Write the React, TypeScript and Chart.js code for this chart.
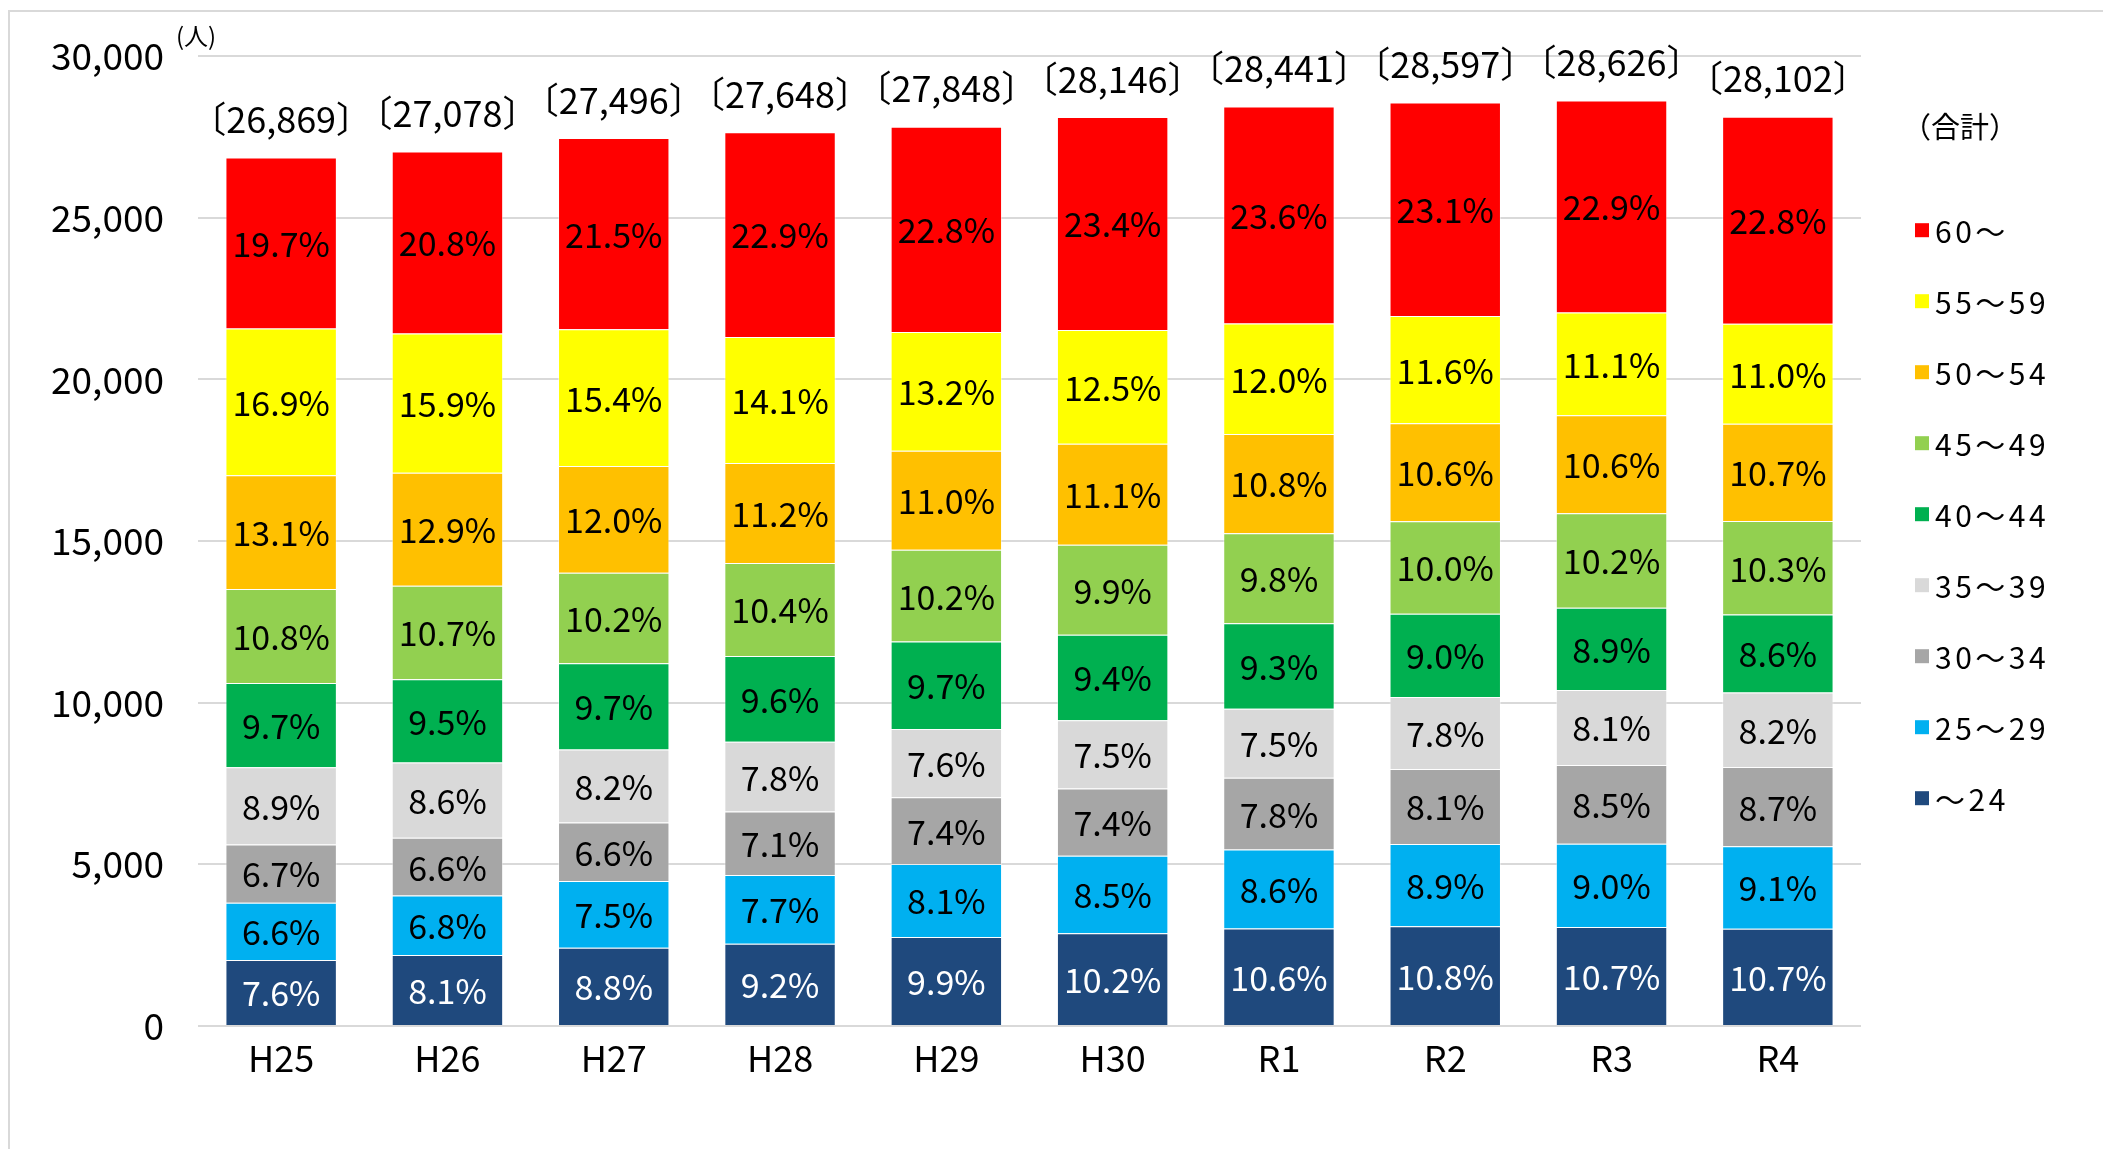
import React, { useEffect, useRef } from "react";
import { Chart, registerables } from "chart.js";

Chart.register(...registerables);

// 年度
const years = ["H25", "H26", "H27", "H28", "H29", "H30", "R1", "R2", "R3", "R4"];
// 合計人数
const totals = [26869, 27078, 27496, 27648, 27848, 28146, 28441, 28597, 28626, 28102];

// 年齢階層（下から積み上げ順）
const ageGroups = ["～24", "25～29", "30～34", "35～39", "40～44", "45～49", "50～54", "55～59", "60～"];

// 各年齢階層の構成比（%）
const shareUnder24 = [7.6, 8.1, 8.8, 9.2, 9.9, 10.2, 10.6, 10.8, 10.7, 10.7];
const share25to29 = [6.6, 6.8, 7.5, 7.7, 8.1, 8.5, 8.6, 8.9, 9.0, 9.1];
const share30to34 = [6.7, 6.6, 6.6, 7.1, 7.4, 7.4, 7.8, 8.1, 8.5, 8.7];
const share35to39 = [8.9, 8.6, 8.2, 7.8, 7.6, 7.5, 7.5, 7.8, 8.1, 8.2];
const share40to44 = [9.7, 9.5, 9.7, 9.6, 9.7, 9.4, 9.3, 9.0, 8.9, 8.6];
const share45to49 = [10.8, 10.7, 10.2, 10.4, 10.2, 9.9, 9.8, 10.0, 10.2, 10.3];
const share50to54 = [13.1, 12.9, 12.0, 11.2, 11.0, 11.1, 10.8, 10.6, 10.6, 10.7];
const share55to59 = [16.9, 15.9, 15.4, 14.1, 13.2, 12.5, 12.0, 11.6, 11.1, 11.0];
const share60over = [19.7, 20.8, 21.5, 22.9, 22.8, 23.4, 23.6, 23.1, 22.9, 22.8];

const shareSeries = [
  shareUnder24, share25to29, share30to34, share35to39, share40to44,
  share45to49, share50to54, share55to59, share60over,
];

const groupColors = [
  "#1f497d", "#00b0f0", "#a6a6a6", "#d9d9d9", "#00b050",
  "#92d050", "#ffc000", "#ffff00", "#ff0000",
];

// 縦軸
const yMax = 30000;
const yStep = 5000;
const unitLabel = "(人)";
const totalLegendLabel = "（合計）";

const FONT = '"Noto Sans CJK JP", "Noto Sans", sans-serif';

const W = 2103;
const H = 1149;

const overlay = {
  id: "overlay",
  beforeDraw(chart: any) {
    const { ctx, width, height } = chart;
    ctx.save();
    ctx.fillStyle = "#ffffff";
    ctx.fillRect(0, 0, width, height);
    ctx.strokeStyle = "#d9d9d9";
    ctx.lineWidth = 2;
    ctx.beginPath();
    ctx.moveTo(9, height + 2);
    ctx.lineTo(9, 11);
    ctx.lineTo(width + 2, 11);
    ctx.stroke();
    ctx.restore();
  },
  afterDatasetsDraw(chart: any) {
    const { ctx } = chart;
    ctx.save();
    ctx.textAlign = "center";
    ctx.textBaseline = "middle";

    // 構成比ラベル
    ctx.font = `34px ${FONT}`;
    chart.data.datasets.forEach((ds: any, di: number) => {
      const meta = chart.getDatasetMeta(di);
      meta.data.forEach((bar: any, i: number) => {
        const { x, y, base } = bar.getProps(["x", "y", "base"], true);
        ctx.fillStyle = di === 0 ? "#ffffff" : "#000000";
        ctx.fillText(`${shareSeries[di][i].toFixed(1)}%`, x, (y + base) / 2 + 1);
      });
    });

    // 合計ラベル
    const topMeta = chart.getDatasetMeta(chart.data.datasets.length - 1);
    ctx.fillStyle = "#000000";
    ctx.font = `36px ${FONT}`;
    topMeta.data.forEach((bar: any, i: number) => {
      const { x, y } = bar.getProps(["x", "y"], true);
      ctx.fillText(`〔${totals[i].toLocaleString("en-US")}〕`, x, y - 38);
    });
    ctx.restore();
  },
  afterDraw(chart: any) {
    const { ctx, chartArea } = chart;
    ctx.save();
    ctx.fillStyle = "#000000";
    ctx.textBaseline = "middle";

    // 単位
    ctx.textAlign = "center";
    ctx.font = `24px ${FONT}`;
    ctx.fillText(unitLabel, chartArea.left - 2, chartArea.top - 20);

    // 凡例
    const lx = chartArea.right + 54;
    ctx.textAlign = "left";
    ctx.font = `29px ${FONT}`;
    ctx.fillText(totalLegendLabel, lx - 13, chartArea.top + 71);

    ctx.font = `30px ${FONT}`;
    (ctx as any).letterSpacing = "3.5px";
    const n = ageGroups.length;
    for (let k = 0; k < n; k++) {
      const gi = n - 1 - k;
      const cy = chartArea.top + 174 + k * 71;
      ctx.fillStyle = groupColors[gi];
      ctx.fillRect(lx, cy - 7, 14, 14);
      ctx.fillStyle = "#000000";
      ctx.fillText(ageGroups[gi], lx + 20, cy + 1);
    }
    ctx.restore();
  },
};

export default function App() {
  const canvasRef = useRef<HTMLCanvasElement | null>(null);

  useEffect(() => {
    const canvas = canvasRef.current;
    if (!canvas) return;

    const datasets = ageGroups.map((label, gi) => ({
      label,
      data: totals.map((t, i) => (t * shareSeries[gi][i]) / 100),
      backgroundColor: groupColors[gi],
      borderColor: "rgba(255,255,255,0.45)",
      borderWidth: 1,
      categoryPercentage: 1,
      barPercentage: 0.67,
      stack: "total",
    }));

    const chart = new Chart(canvas, {
      type: "bar",
      data: { labels: years, datasets },
      options: {
        responsive: false,
        animation: false,
        devicePixelRatio: 1,
        layout: { padding: { left: 0, top: 56, right: 242, bottom: 0 } },
        plugins: {
          legend: { display: false },
          tooltip: { enabled: false },
        },
        scales: {
          x: {
            stacked: true,
            grid: { display: false },
            border: { display: false },
            ticks: {
              color: "#000000",
              font: { family: FONT, size: 36 },
              padding: 3,
            },
            afterFit(scale: any) {
              scale.height = 123;
            },
          },
          y: {
            stacked: true,
            min: 0,
            max: yMax,
            border: { display: false },
            grid: { color: "#d9d9d9", lineWidth: 2, drawTicks: false },
            ticks: {
              stepSize: yStep,
              color: "#000000",
              font: { family: FONT, size: 37 },
              padding: 34,
              callback: (v: any) => Number(v).toLocaleString("en-US"),
            },
            afterFit(scale: any) {
              scale.width = 198;
            },
          },
        },
      },
      plugins: [overlay],
    });

    return () => chart.destroy();
  }, []);

  return (
    <div style={{ position: "fixed", left: 0, top: 0, width: W, height: H, background: "#fff" }}>
      <canvas ref={canvasRef} width={W} height={H} style={{ display: "block", width: W, height: H }} />
    </div>
  );
}
